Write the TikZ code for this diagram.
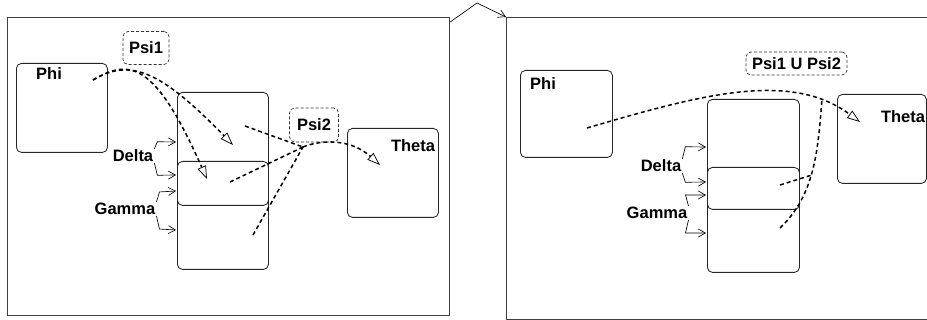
\documentclass[tikz,border=0pt]{standalone}
\usepackage{fontspec}
\setmainfont{Liberation Sans}
\usetikzlibrary{arrows.meta}

\begin{document}
\begin{tikzpicture}
    [x=1pt, y=-1pt,
    panel/.style={draw=black!75, line width=1.2pt, inner sep=0pt, anchor=north west},
    box/.style={draw=black!85, line width=0.85pt, rounded corners=5pt, inner sep=0pt, anchor=north west},
    guard/.style={draw=black!80, dash pattern=on 3pt off 2pt, line width=0.7pt, rounded corners=5pt,
        inner sep=0pt, font=\bfseries\fontsize{16.5}{19}\selectfont},
    tag/.style={font=\bfseries\fontsize{16.5}{19}\selectfont, inner sep=1pt},
    feed/.style={-{Straight Barb[length=7pt,width=8pt]}, line width=0.65pt},
    flow/.style={line width=1.5pt, dash pattern=on 4pt off 3pt},
    flow arrow/.style={flow, -{Triangle[open, length=13pt, width=9pt, line width=0.75pt]}}]

    \useasboundingbox (0,0) rectangle (927,320);

    % drawing the two panels
    \node[panel, minimum width=442pt, minimum height=298pt] (leftP) at (7,17) {};
    \node[panel, minimum width=440pt, minimum height=302pt] (rightP) at (506,17) {};
    \coordinate (bend) at (477,3);
    \draw[feed] ([yshift=-5pt]leftP.north east) -- (bend) -- (rightP.north west);

    % drawing the left boxes
    \node[box, minimum width=91pt, minimum height=89pt] (phiL) at (16,63) {};
    \node[box, minimum width=91pt, minimum height=177pt] (midL) at (177,92) {};
    \node[box, minimum width=91pt, minimum height=44pt] (subL) at (177,161) {};
    \node[box, minimum width=91pt, minimum height=89pt] (thetaL) at (347,128) {};
    \node[guard, minimum width=46pt, minimum height=33pt] (psiOneL) at (146,48) {Psi1};
    \node[guard, minimum width=49pt, minimum height=34pt] (psiTwoL) at (314,125) {Psi2};
    \node[tag] (phiLtext) at (49,74) {Phi};
    \node[tag] (thetaLtext) at (413,146) {Theta};
    \node[tag] (deltaL) at (133,156) {Delta};
    \node[tag] (gammaL) at (125,209) {Gamma};

    % drawing the left feeds
    \coordinate (dL1) at (176,142);
    \coordinate (dL2) at (176,175);
    \coordinate (gL1) at (176,191);
    \coordinate (gL2) at (176,230);
    \draw[feed] (deltaL.north east) -- ++(3,-7) -- (dL1);
    \draw[feed] (deltaL.south east) -- ++(3,12) -- (dL2);
    \draw[feed] (gammaL.north east) -- ++(3,-10) -- (gL1);
    \draw[feed] (gammaL.south east) -- ++(3,13) -- (gL2);

    % drawing the left flows
    \coordinate (phiLout) at (93,80);
    \coordinate (tipL1) at (233,145);
    \coordinate (tipL2) at (207,179);
    \coordinate (srcL1) at (245,126);
    \coordinate (srcL2) at (230,182);
    \coordinate (srcL3) at (253,235);
    \coordinate (hubL) at (303,147);
    \coordinate (tipL3) at (380,165);
    \draw[flow arrow] (phiLout) .. controls (130,58) and (160,70) .. (tipL1);
    \draw[flow arrow] (phiLout) .. controls (130,58) and (155,62) .. (tipL2);
    \draw[flow] (srcL1) -- (hubL);
    \draw[flow] (srcL2) -- (hubL);
    \draw[flow] (srcL3) -- (hubL);
    \draw[flow arrow] (hubL) .. controls (320,140) and (350,138) .. (tipL3);

    % drawing the right boxes
    \node[box, minimum width=92pt, minimum height=87pt] (phiR) at (520,70) {};
    \node[box, minimum width=92pt, minimum height=173pt] (midR) at (707,99) {};
    \node[box, minimum width=92pt, minimum height=42pt] (subR) at (707,167) {};
    \node[box, minimum width=89pt, minimum height=89pt] (thetaR) at (837,94) {};
    \node[guard, minimum width=101pt, minimum height=23pt] (psiU) at (796.5,63.5) {Psi1 U Psi2};
    \node[tag] (phiRtext) at (543,84) {Phi};
    \node[tag] (thetaRtext) at (903,117) {Theta};
    \node[tag] (deltaR) at (661,166) {Delta};
    \node[tag] (gammaR) at (657,213) {Gamma};

    % drawing the right feeds
    \coordinate (dR1) at (706,147);
    \coordinate (dR2) at (706,182);
    \coordinate (gR1) at (706,195);
    \coordinate (gR2) at (706,233);
    \draw[feed] (deltaR.north east) -- ++(3,-12) -- (dR1);
    \draw[feed] (deltaR.south east) -- ++(3,9) -- (dR2);
    \draw[feed] (gammaR.north east) -- ++(-3,-11) -- (gR1);
    \draw[feed] (gammaR.south east) -- ++(-3,13) -- (gR2);

    % drawing the right flows
    \coordinate (phiRout) at (587,128);
    \coordinate (tipR) at (860,122);
    \coordinate (hubR) at (822,99);
    \coordinate (srcR2) at (780,185);
    \coordinate (joinR) at (812,175);
    \coordinate (srcR3) at (780,228);
    \draw[flow arrow] (phiRout) .. controls (700,95) and (790,70) .. (tipR);
    \draw[flow] (srcR2) -- (joinR);
    \draw[flow] (srcR3) .. controls (815,195) and (818,150) .. (hubR);

\end{tikzpicture}
\end{document}
